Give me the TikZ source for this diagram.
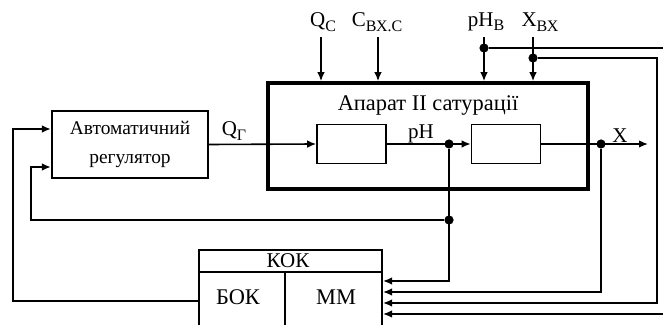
\documentclass[tikz,border=0pt]{standalone}
\usepackage{fontspec}
\setmainfont{Liberation Serif}
\usepackage{tikz}
\usetikzlibrary{arrows.meta,positioning,calc}
\newcommand{\idx}[1]{\raisebox{-0.45ex}{\footnotesize #1}}

\begin{document}
\begin{tikzpicture}[x=0.5pt,y=-0.5pt, every node/.style={font=\fontsize{10.5}{12}\selectfont}, regbox/.style={draw,line width=1.2pt,minimum width=78pt,minimum height=33.5pt,align=center,inner sep=0pt,font=\fontsize{9.7}{14.5}\selectfont}, appbox/.style={draw,line width=1.8pt,minimum width=160pt,minimum height=53pt}, inbox/.style={draw,line width=0.8pt,minimum width=34.5pt,minimum height=19.5pt}, kokbox/.style={draw,line width=1pt,minimum width=91.5pt,minimum height=43pt,anchor=north west}, part/.style={font=\fontsize{11.2}{13}\selectfont}, sig/.style={line width=0.8pt,-{Latex[length=4.5pt,width=3.8pt]}}, ln/.style={line width=0.8pt}, dot/.style={circle,fill,inner sep=0pt,minimum size=4.6pt}]
\useasboundingbox (0,0) rectangle (663,325);
% blocks
\node[regbox] (reg) at (130,144.5) {Автоматичний\\регулятор};
\node[appbox] (app) at (428,136) {};
\node[font=\fontsize{11.2}{13}\selectfont] (title) at (428,106) {Апарат II сатурації};
\node[inbox] (b1) at (351.5,144) {};
\node[inbox] (b2) at (506,144) {};
\node[kokbox] (kok) at (198,249) {};
\draw[ln] ([yshift=-11.5pt]kok.north west) -- ([yshift=-11.5pt]kok.north east);
\draw[ln] ([xshift=43.5pt,yshift=-11.5pt]kok.north west) -- ([xshift=43.5pt]kok.south west);
\node (kokl) at (288,261) {КОК};
\node[part] (bok) at (238,297) {БОК};
\node[part] (mm) at (336,297) {ММ};
% inputs on top
\node (qc) at (323,22) {Q\idx{С}};
\node (cin) at (377,22) {C\idx{ВХ.С}};
\node (phb) at (486,22) {pH\idx{В}};
\node (xin) at (540,22) {X\idx{ВХ}};
\coordinate (t1) at (321,37);
\coordinate (t2) at (378,37);
\coordinate (t3) at (484,37);
\coordinate (t4) at (533,37);
\foreach \t in {t1,t2,t3,t4}{\draw[sig] (\t) -- (\t |- app.north);}
% junctions
\node[dot] (d1) at (449,144) {};
\node[dot] (d2) at (601,144) {};
\node[dot] (d3) at (449,220) {};
\node[dot] (d4) at (484,48) {};
\node[dot] (d5) at (533,58) {};
\coordinate (xout) at (648,144);
\coordinate (r1) at (668,48);
\coordinate (r2) at (657,58);
\coordinate (fb1) at (31,220);
\coordinate (fb2) at (13,301);
% main signal path
\draw[sig] (reg.east) -- (b1.west);
\draw[sig] (b1.east) -- (b2.west);
\draw[sig] (b2.east) -- (xout);
\node (qg) at (234,131) {Q\idx{Г}};
\node (ph) at (421,134) {pH};
\node (xl) at (620,136) {X};
% lines into KOK
\draw[sig] (d1) |- ([yshift=-16pt]kok.north east);
\draw[sig] (d2) |- ([yshift=-21.5pt]kok.north east);
\draw[sig] (d5) -- (r2) |- ([yshift=-27pt]kok.north east);
\draw[sig] (d4) -- (r1) |- ([yshift=-32.5pt]kok.north east);
% feedback to regulator
\draw[sig] (d3) -- (fb1) |- ([yshift=-11.25pt]reg.west);
\draw[sig] (kok.west |- fb2) -- (fb2) |- ([yshift=7.75pt]reg.west);
\end{tikzpicture}
\end{document}
